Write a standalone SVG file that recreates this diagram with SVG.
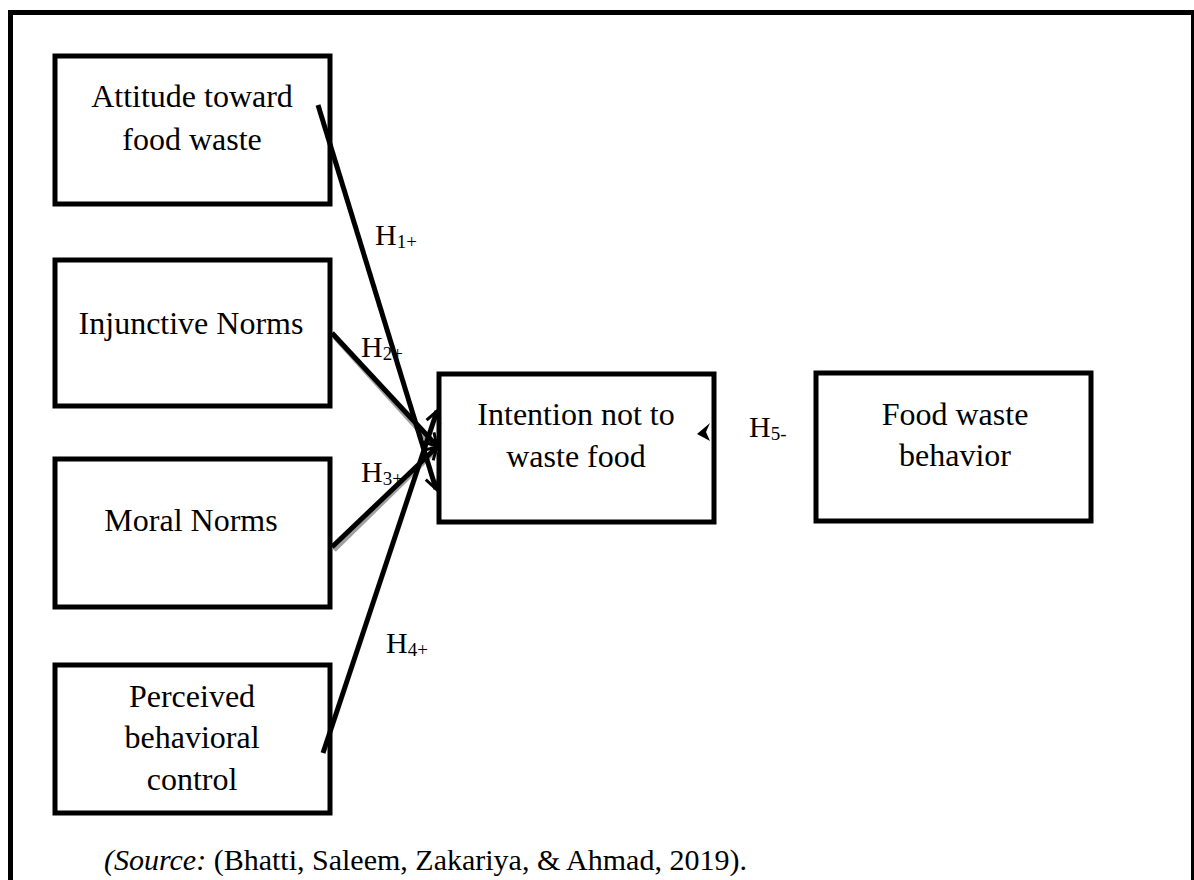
<svg xmlns="http://www.w3.org/2000/svg" width="1194" height="880" viewBox="0 0 1194 880">
<style>
.box{fill:#fff;stroke:#000;stroke-width:5}
.t{font-family:"Liberation Serif","Times New Roman",serif;font-size:32px;fill:#000;text-anchor:middle}
.h{font-family:"Liberation Serif","Times New Roman",serif;font-size:30px;fill:#000}
.sub{font-size:19px}
.ln{stroke:#000;stroke-width:5;fill:none;stroke-linecap:butt}
.sh{stroke:#a0a0a0;stroke-width:5;fill:none}
.src{font-family:"Liberation Serif","Times New Roman",serif;font-size:30px;fill:#000}
</style>
<defs>
<marker id="arr" markerUnits="userSpaceOnUse" markerWidth="20" markerHeight="20" refX="0" refY="0" viewBox="-14 -10 18 20" orient="auto">
<path d="M-12,-7 L0,0 L-12,7" fill="none" stroke="#000" stroke-width="3"/>
</marker>
</defs>
<rect width="1194" height="880" fill="#fff"/>
<g id="frame">
<line x1="10.5" y1="10" x2="10.5" y2="880" stroke="#000" stroke-width="5"/>
<line x1="8" y1="12.5" x2="1194" y2="12.5" stroke="#000" stroke-width="5"/>
<line x1="1192.5" y1="10" x2="1192.5" y2="880" stroke="#000" stroke-width="3"/>
</g>
<g id="attitude">
<rect class="box" x="55" y="56" width="275" height="148"/>
<text class="t" x="192" y="107">Attitude toward</text>
<text class="t" x="192" y="150">food waste</text>
</g>
<g id="injunctive">
<rect class="box" x="55" y="260" width="275" height="146"/>
<text class="t" x="191" y="334">Injunctive Norms</text>
</g>
<g id="moral">
<rect class="box" x="55" y="459" width="275" height="148"/>
<text class="t" x="191" y="531">Moral Norms</text>
</g>
<g id="pbc">
<rect class="box" x="55" y="665" width="275" height="148"/>
<text class="t" x="192" y="707">Perceived</text>
<text class="t" x="192" y="748">behavioral</text>
<text class="t" x="192" y="790">control</text>
</g>
<g id="intention">
<rect class="box" x="439" y="374" width="275" height="148"/>
<text class="t" x="576" y="425">Intention not to</text>
<text class="t" x="576" y="467">waste food</text>
</g>
<g id="behavior">
<rect class="box" x="816" y="373" width="275" height="148"/>
<text class="t" x="955" y="425">Food waste</text>
<text class="t" x="955" y="466">behavior</text>
</g>
<g id="connectors">
<line class="sh" x1="334" y1="336" x2="436" y2="449"/>
<line class="sh" x1="334" y1="550" x2="436" y2="450"/>
<line class="ln" x1="318" y1="105" x2="436" y2="489" marker-end="url(#arr)"/>
<line class="ln" x1="332" y1="333" x2="437" y2="446" marker-end="url(#arr)"/>
<line class="ln" x1="332" y1="547" x2="437" y2="447" marker-end="url(#arr)"/>
<line class="ln" x1="323" y1="753" x2="437" y2="411" marker-end="url(#arr)"/>
<polygon points="697,434 710,423 706,432 710,441" fill="#000"/>
</g>
<g id="labels">
<text class="h" x="375" y="245">H<tspan class="sub" dy="3">1+</tspan></text>
<text class="h" x="361" y="357">H<tspan class="sub" dy="3">2+</tspan></text>
<text class="h" x="361" y="482">H<tspan class="sub" dy="3">3+</tspan></text>
<text class="h" x="386" y="653">H<tspan class="sub" dy="3">4+</tspan></text>
<text class="h" x="749" y="437">H<tspan class="sub" dy="3">5-</tspan></text>
</g>
<text class="src" x="104" y="870"><tspan font-style="italic">(Source:</tspan> (Bhatti, Saleem, Zakariya, &amp; Ahmad, 2019).</text>
</svg>
